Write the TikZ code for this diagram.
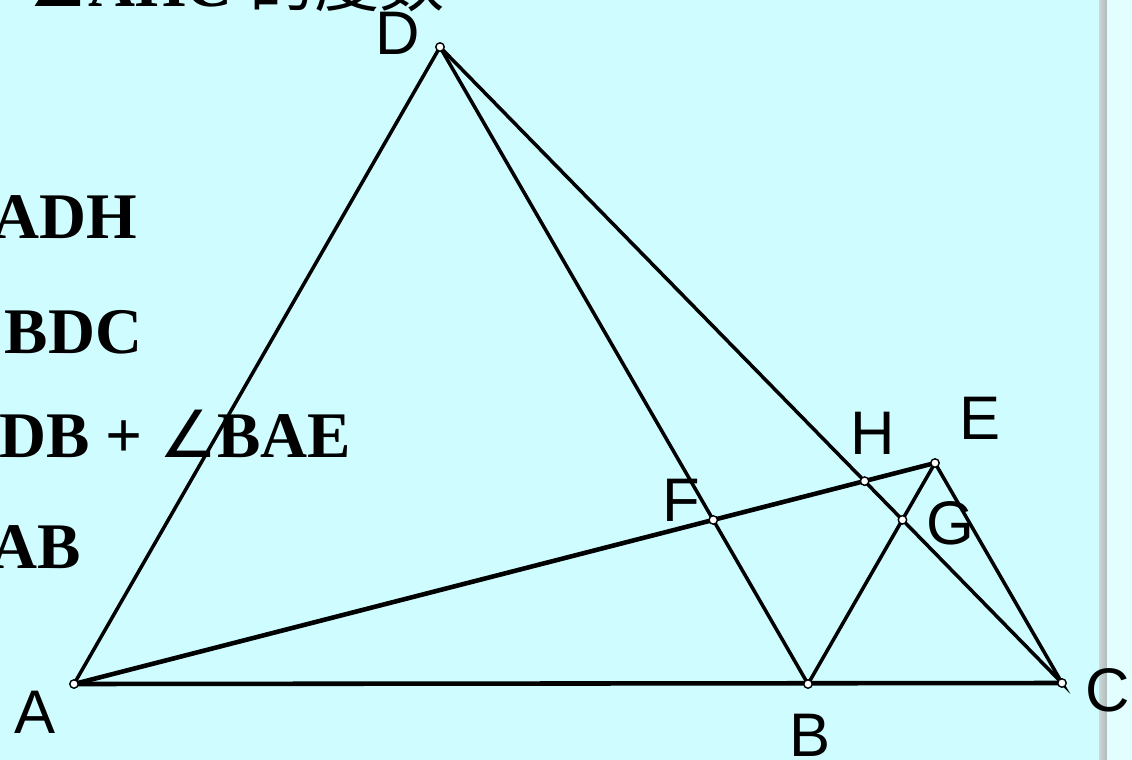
\documentclass[tikz,border=0pt]{standalone}
\usepackage{fontspec}
\setmainfont{Liberation Serif}
\newfontfamily\etiketFont{Liberation Sans}
\newfontfamily\sembolFont{DejaVu Sans}
\newfontfamily\cjk{Noto Sans CJK SC}
\usetikzlibrary{calc}
\definecolor{arkaPlan}{HTML}{CFFDFF}
\definecolor{kaydirma}{HTML}{AEBABA}
\definecolor{cizgi}{HTML}{000000}
\newcommand{\aci}{{\sembolFont\mdseries ∠}}
\tikzset{
  kenar/.style={cizgi,line width=1pt},
  kalinKenar/.style={cizgi,line width=1.3pt},
  nokta/.style={fill=white,draw=cizgi,line width=0.4pt},
  harf/.style={inner sep=0pt,font=\etiketFont\fontsize{17.5}{18}\selectfont},
  yazi/.style={inner sep=0pt,anchor=base east,font=\fontsize{18.5}{20}\selectfont\bfseries}
}

\begin{document}
\begin{tikzpicture}[x=0.01cm,y=-0.01cm]
\useasboundingbox (0,0) rectangle (1132,760);
\clip (0,0) rectangle (1132,760);
\fill[arkaPlan] (0,0) rectangle (1132,760);
\shade[left color=kaydirma!60,right color=kaydirma] (1099,0) rectangle (1107,760);
\fill[white!40!arkaPlan] (1107,0) rectangle (1132,760);
% noktalar
\coordinate (A) at (74,684);
\coordinate (B) at (808,684);
\coordinate (C) at (1062,683);
\coordinate (D) at (440,47);
\coordinate (E) at (935,463);
\coordinate (F) at (intersection of A--E and D--B);
\coordinate (H) at (intersection of A--E and D--C);
\coordinate (G) at (intersection of B--E and D--C);
% kenarlar
\draw[kenar] (A)--(D)--(B);
\draw[kenar] (D)--(C)--(E)--(B);
\draw[kalinKenar] (A)--(C);
\draw[kalinKenar] (A)--(E);
\foreach \p in {A,B,C,D,E,F,G,H}
  \filldraw[nokta] (\p) circle (1.2pt);
% harfler
\node[harf] (lblA) at (35,712) {A};
\node[harf] (lblB) at (810,735) {B};
\node[harf] (lblC) at (1108,690) {C};
\node[harf] (lblD) at (398,33) {D};
\node[harf] (lblE) at (980,418) {E};
\node[harf] (lblF) at (681,500) {F};
\node[harf] (lblG) at (950,523) {G};
\node[harf] (lblH) at (873,433) {H};
% yazilar
\node[yazi] (soru) at (445,6) {\aci AHC {\cjk\mdseries 的度数}};
\node[yazi] (satir1) at (138,238) {ADH};
\node[yazi] (satir2) at (143,353) {\aci BDC};
\node[yazi] (satir3) at (352,457) {DB + \aci BAE};
\node[yazi] (satir4) at (82,568) {AB};
\end{tikzpicture}
\end{document}
